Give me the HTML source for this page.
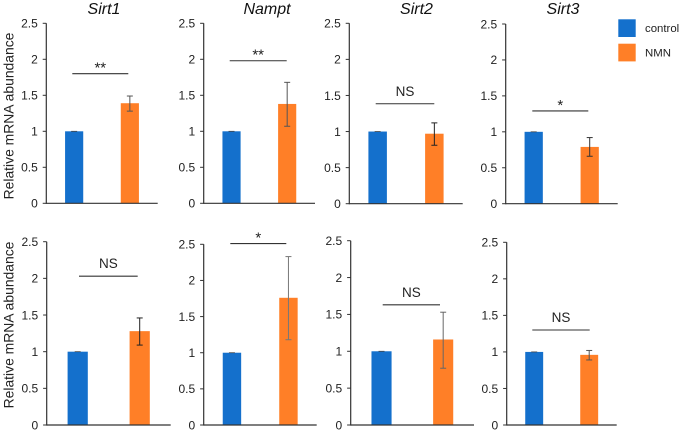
<!DOCTYPE html>
<html lang="en">
<head>
<meta charset="utf-8">
<title>Relative mRNA abundance</title>
<style>
html,body{margin:0;padding:0;background:#fff;}
svg{display:block;font-family:"Liberation Sans",Arial,sans-serif;}
</style>
</head>
<body>
<svg id="chart" xmlns="http://www.w3.org/2000/svg" width="681" height="431" viewBox="0 0 681 431">
  <g>
    <rect x="618.3" y="19.3" width="17.4" height="17.7" fill="#1470cc"/>
    <text x="645" y="32" font-size="11.4" fill="#222">control</text>
    <rect x="618.3" y="43.7" width="17.4" height="17.7" fill="#ff7f27"/>
    <text x="645" y="56.5" font-size="11.4" fill="#222">NMN</text>
  </g>
  <text transform="translate(13.5,116) rotate(-90)" text-anchor="middle" font-size="13.9" fill="#222">Relative mRNA abundance</text>
  <text transform="translate(13.5,325) rotate(-90)" text-anchor="middle" font-size="13.9" fill="#222">Relative mRNA abundance</text>
  <text x="104" y="14" text-anchor="middle" font-size="16" font-style="italic" fill="#111">Sirt1</text>
  <text x="267" y="14" text-anchor="middle" font-size="16" font-style="italic" fill="#111">Nampt</text>
  <text x="416.5" y="14" text-anchor="middle" font-size="16" font-style="italic" fill="#111">Sirt2</text>
  <text x="563" y="14" text-anchor="middle" font-size="16" font-style="italic" fill="#111">Sirt3</text>
</svg>
<script>
const genes = ["Sirt1","Nampt","Sirt2","Sirt3","Sirt1","Nampt","Sirt2","Sirt3"];
const groups = ["control","NMN"];
const tickValues = [0,0.5,1,1.5,2,2.5];
const tickLabels = ["0","0.5","1","1.5","2","2.5"];
const controlValues = [1,1,1,1,1,1,1,1];
const nmnValues = [1.39,1.38,0.97,0.79,1.28,1.76,1.16,0.96];
const nmnErrorLow = [1.28,1.07,0.81,0.66,1.09,1.18,0.77,0.89];
const nmnErrorHigh = [1.49,1.68,1.12,0.92,1.46,2.33,1.53,1.02];
const sigLabels = ["**","**","NS","*","NS","*","NS","NS"];
const sigLevels = [1.8,1.98,1.385,1.29,2.03,2.51,1.63,1.3];

const panelFrames = [
  {l:46.3,r:157.7,t:23.3,b:203.3,s0:72.3,s1:128.3,err:"#555"},
  {l:203.7,r:315,t:23.3,b:203.3,s0:229.7,s1:286.7,err:"#555"},
  {l:349.3,r:462.7,t:23.3,b:203.7,s0:375.7,s1:434.3,err:"#222"},
  {l:505.7,r:617.7,t:24,b:203.7,s0:532.3,s1:588.3,err:"#333"},
  {l:46.7,r:170.7,t:241.7,b:425,s0:79,s1:137.7,err:"#222"},
  {l:203.7,r:316.7,t:244.3,b:425,s0:230.3,s1:286.3,err:"#777"},
  {l:350.7,r:474,t:240.7,b:425,s0:382.7,s1:440,err:"#666"},
  {l:506.7,r:616.7,t:242.3,b:425,s0:532.3,s1:589.7,err:"#555"}
];
const groupColors = ["#1470cc","#ff7f27"];
const axisMax = 2.5;

const svg = document.getElementById("chart");
function mk(tag, attrs, parent) {
  const el = document.createElementNS("http://www.w3.org/2000/svg", tag);
  for (const k in attrs) el.setAttribute(k, attrs[k]);
  parent.appendChild(el);
  return el;
}

genes.forEach(function (gene, i) {
  const f = panelFrames[i];
  const yOf = function (v) { return f.b - (v / axisMax) * (f.b - f.t); };
  const xOf = function (g) { return f.l + (f.r - f.l) * (0.25 + 0.5 * g); };
  const barW = (f.r - f.l) * 0.163;

  const panel = mk("g", {}, svg);
  
  

  [controlValues[i], nmnValues[i]].forEach(function (v, g) {
    const bar = mk("rect", {x: xOf(g) - barW / 2, y: yOf(v), width: barW, height: f.b - yOf(v), fill: groupColors[g]}, panel);
    
    
  });

  const cx0 = xOf(0);
  const ctrlCap = mk("line", {x1: cx0 - 3, x2: cx0 + 3, y1: yOf(controlValues[i]), y2: yOf(controlValues[i]), stroke: "#444", "stroke-width": 0.8}, panel);
  
  

  const cx = xOf(1);
  const errLine = mk("line", {x1: cx, x2: cx, y1: yOf(nmnErrorLow[i]), y2: yOf(nmnErrorHigh[i]), stroke: f.err, "stroke-width": 1}, panel);
  
  
  [nmnErrorLow[i], nmnErrorHigh[i]].forEach(function (v) {
    const cap = mk("line", {x1: cx - 3, x2: cx + 3, y1: yOf(v), y2: yOf(v), stroke: f.err, "stroke-width": 1}, panel);
    
    
  });

  const yAxis = mk("line", {x1: f.l, x2: f.l, y1: f.t, y2: f.b + 0.6, stroke: "#333", "stroke-width": 1.2}, panel);
  
  
  const xAxis = mk("line", {x1: f.l, x2: f.r, y1: f.b, y2: f.b, stroke: "#333", "stroke-width": 1.2}, panel);
  
  

  tickValues.forEach(function (v, t) {
    const tick = mk("line", {x1: f.l - 3.6, x2: f.l, y1: yOf(v), y2: yOf(v), stroke: "#333", "stroke-width": 1}, panel);
    
    
    const label = mk("text", {x: f.l - 8.5, y: yOf(v) + 4.3, "text-anchor": "end", "font-size": 12, fill: "#222"}, panel);
    
    
    label.textContent = tickLabels[t];
  });

  const sy = yOf(sigLevels[i]);
  const sig = mk("line", {x1: f.s0, x2: f.s1, y1: sy, y2: sy, stroke: "#333", "stroke-width": 1.1}, panel);
  
  
  const isNS = sigLabels[i] === "NS";
  const sigText = mk("text", {x: (f.s0 + f.s1) / 2, y: isNS ? sy - 8 : sy - 1, "text-anchor": "middle", "font-size": isNS ? 13.5 : 15, fill: "#222"}, panel);
  
  
  sigText.textContent = sigLabels[i];
});
</script>
</body>
</html>
